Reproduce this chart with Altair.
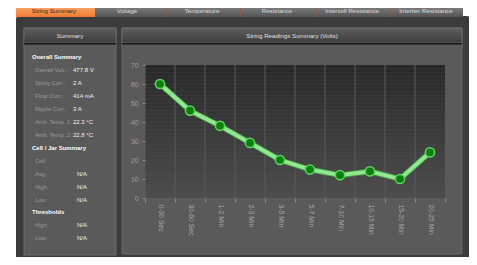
import altair as alt
import pandas as pd

# ---------------- data ----------------
categories = ["0-30 Sec", "30-60 Sec", "1-2 Min", "2-3 Min", "3-5 Min",
              "5-7 Min", "7-10 Min", "10-15 Min", "15-20 Min", "20-25 Min"]
volts = [60, 46, 38, 29, 20, 15, 12, 14, 10, 24]
y_ticks = [0, 10, 20, 30, 40, 50, 60, 70]
minor_grid = [2, 4, 6, 8, 12, 14, 16, 18, 22, 24, 26, 28, 32, 34, 36, 38,
              42, 44, 46, 48, 52, 54, 56, 58, 62, 64, 66, 68, 0, 10, 20, 30,
              40, 50, 60, 70]

tab_names = ["String Summary", "Voltage", "Temperature", "Resistance",
             "Intercell Resistance", "Intertier Resistance"]
left_title = "Summary"
chart_title = "String Readings Summary (Volts)"
summary_headings = ["Overall Summary", "Cell / Jar Summary", "Thresholds"]
overall_labels = ["Overall Volt.:", "String Curr.:", "Float Curr.:",
                  "Ripple Curr.:", "Amb. Temp. 1:", "Amb. Temp. 2:"]
overall_values = ["477.8 V", "2 A", "414 mA", "3 A", "22.3 \u00b0C", "22.8 \u00b0C"]
cell_labels = ["Cell:", "Avg:", "High:", "Low:"]
cell_values = ["", "N/A", "N/A", "N/A"]
threshold_labels = ["High:", "Low:"]
threshold_values = ["N/A", "N/A"]

df = pd.DataFrame({"cat": categories, "v": volts})
grid_df = pd.DataFrame({"g": minor_grid})
one = pd.DataFrame({"k": [0]})

# ---------------- layout ----------------
W, H = 300, 133          # plot area
OX, OY = 145, 65         # plot origin in page pixels
FONT = "Liberation Sans"


def grad(top, bottom):
    return alt.LinearGradient(
        gradient="linear",
        stops=[alt.GradientStop(color=top, offset=0),
               alt.GradientStop(color=bottom, offset=1)],
        x1=0, x2=0, y1=0, y2=1)


def box(x0, y0, x1, y1, **kw):
    return alt.Chart(one).mark_rect(**kw).encode(
        x=alt.value(x0 - OX), x2=alt.value(x1 - OX),
        y=alt.value(y0 - OY), y2=alt.value(y1 - OY))


def label(x, y, text, **kw):
    opts = dict(font=FONT, fontSize=6.2, baseline="middle")
    opts.update(kw)
    return alt.Chart(one).mark_text(**opts).encode(
        x=alt.value(x - OX), y=alt.value(y - OY), text=alt.value(text))


layers = []
# outer dark frame
layers.append(box(16, 16, 470, 262, fill="#3c3c3c", cornerRadius=3))
# tab strip
layers.append(box(94, 3, 463, 17, fill=grad("#8e8e8e", "#545454"),
                  cornerRadiusTopRight=6))
layers.append(box(16, 3, 95, 17, fill=grad("#fbb67e", "#ec7a30"),
                  cornerRadiusTopLeft=2))
for sx in [166, 240, 316, 390]:
    layers.append(box(sx, 4, sx + 1, 17, fill="#8a6048"))
tab_x = [54, 127, 202, 277, 352, 426]
for i, (name, tx) in enumerate(zip(tab_names, tab_x)):
    layers.append(label(tx, 10.5, name, align="center",
                        color="#3a2614" if i == 0 else "#dcdcdc"))

# left panel
layers.append(box(24, 28, 116, 255, fill="#5a5a5a", stroke="#6c6c6c",
                  strokeWidth=1))
layers.append(box(24, 28, 116, 43, fill=grad("#5e5e5e", "#3c3c3c"),
                  stroke="#707070", strokeWidth=0.8))
layers.append(box(24, 43, 116, 44.5, fill="#151515"))
layers.append(label(70, 36, left_title, align="center", color="#e0e0e0"))

# right panel
layers.append(box(122, 28, 462, 254, fill="#5a5a5a", stroke="#6c6c6c",
                  strokeWidth=1))
layers.append(box(122, 28, 462, 43, fill=grad("#5e5e5e", "#3c3c3c"),
                  stroke="#707070", strokeWidth=0.8))
layers.append(box(122, 43, 462, 44.5, fill="#151515"))
layers.append(label(292, 36, chart_title, align="center", color="#e0e0e0"))

# summary texts: 15 rows starting at y=57.3, row spacing 12.93
LH = 12.93
Y0 = 57.3
rows = []  # (row index, heading?, label, value, value x)
rows.append((0, True, summary_headings[0], "", 0))
for i, (l, v) in enumerate(zip(overall_labels, overall_values)):
    rows.append((1 + i, False, l, v, 73))
rows.append((7, True, summary_headings[1], "", 0))
for i, (l, v) in enumerate(zip(cell_labels, cell_values)):
    rows.append((8 + i, False, l, v, 77))
rows.append((12, True, summary_headings[2], "", 0))
for i, (l, v) in enumerate(zip(threshold_labels, threshold_values)):
    rows.append((13 + i, False, l, v, 77))

for r, is_head, l, v, vx in rows:
    yy = Y0 + r * LH
    if is_head:
        layers.append(label(32, yy, l, align="left", color="#ffffff",
                            fontWeight="bold", fontSize=6))
    else:
        layers.append(label(35, yy, l, align="left", color="#9a9a9a",
                            fontSize=5.7))
        if v:
            layers.append(label(vx, yy, v, align="left", color="#f2f2f2",
                                fontSize=6))

# plot background
layers.append(box(OX, OY, OX + W, OY + H, fill=grad("#282828", "#4d4d4d")))

# ---------------- chart proper ----------------
x_scale = alt.Scale(paddingInner=0, paddingOuter=0)
y_scale = alt.Scale(domain=[0, 70], nice=False)
x_axis = alt.Axis(title=None, labelAngle=90, labelAlign="left",
                  labelBaseline="middle", labelPadding=2, labelFontSize=6.8,
                  labelColor="#a8a8a8", labelFont=FONT, tickSize=4,
                  tickColor="#8a8a8a", tickBand="extent", domain=False,
                  grid=False, zindex=1)
y_axis = alt.Axis(title=None, values=y_ticks, labelFontSize=6.8,
                  labelColor="#a0a0a0", labelFont=FONT, tickSize=3,
                  tickColor="#8a8a8a", labelPadding=4, domain=False,
                  grid=False, zindex=1)

X = alt.X("cat:N", sort=categories, scale=x_scale, axis=x_axis)
Y = alt.Y("v:Q", scale=y_scale, axis=y_axis)

hgrid = alt.Chart(grid_df).mark_rule(color="#555555", strokeWidth=0.6,
                                     opacity=0.45).encode(
    y=alt.Y("g:Q", scale=y_scale, axis=y_axis),
    x=alt.value(0), x2=alt.value(W))
vgrid = alt.Chart(df).mark_rule(color="#5a5a5a", strokeWidth=1).encode(
    x=alt.X("cat:N", sort=categories, scale=x_scale, axis=x_axis,
            bandPosition=0),
    y=alt.value(0), y2=alt.value(H))
line_edge = alt.Chart(df).mark_line(color="#4aa84a", strokeWidth=5.5).encode(
    x=X, y=Y)
line = alt.Chart(df).mark_line(color="#92e892", strokeWidth=3.8).encode(
    x=X, y=Y)
points = alt.Chart(df).mark_point(filled=True, fill="#0b7f0b",
                                  stroke="#62d262", strokeWidth=1.5,
                                  size=85, opacity=1).encode(x=X, y=Y)

layers += [hgrid, vgrid, line_edge, line, points]

chart = alt.layer(*layers).properties(
    width=W, height=H,
    autosize=alt.AutoSizeParams(type="none"),
    padding={"left": OX - 8, "top": OY - 8, "right": 477 - 8 - OX - W,
             "bottom": 265 - 8 - OY - H},
    background="white",
).configure_view(stroke=None).configure(font=FONT)

chart.save("out.html", embed_options={"renderer": "svg", "actions": False})
